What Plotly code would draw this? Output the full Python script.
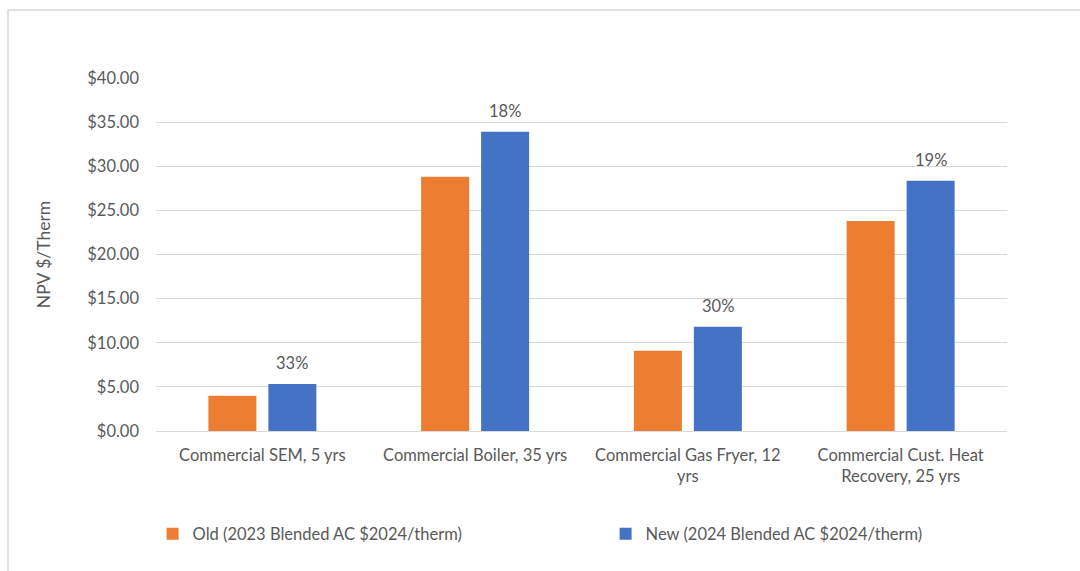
import plotly.graph_objects as go

categories = [
    "Commercial SEM, 5 yrs",
    "Commercial Boiler, 35 yrs",
    "Commercial Gas Fryer, 12<br>yrs",
    "Commercial Cust. Heat<br>Recovery, 25 yrs",
]
old_values = [4.00, 28.80, 9.10, 23.80]
new_values = [5.32, 33.90, 11.80, 28.35]
pct_labels = ["33%", "18%", "30%", "19%"]

old_name = "Old (2023 Blended AC $2024/therm)"
new_name = "New (2024 Blended AC $2024/therm)"

ORANGE = "#ED7D31"
BLUE = "#4472C4"
GRAY = "#595959"
FONT = "Lato, Open Sans, sans-serif"
FS = 16.5

fig = go.Figure()
fig.add_trace(go.Bar(
    x=categories, y=old_values, name=old_name,
    marker=dict(color=ORANGE, line=dict(width=0)),
))
fig.add_trace(go.Bar(
    x=categories, y=new_values, name=new_name,
    marker=dict(color=BLUE, line=dict(width=0)),
))

# percentage change labels above the "new" bars
annotations = [
    dict(x=c, y=v, xref="x", yref="y", text=t, showarrow=False,
         xanchor="center", yanchor="bottom", xshift=30, yshift=9,
         font=dict(size=FS, color=GRAY, family=FONT))
    for c, v, t in zip(categories, new_values, pct_labels)
]

fig.update_layout(
    width=1080, height=571,
    margin=dict(l=156, r=73, t=78, b=140),
    paper_bgcolor="white", plot_bgcolor="white",
    barmode="group", bargap=0.436, bargroupgap=0.2,
    font=dict(family=FONT, color=GRAY, size=FS),
    showlegend=True,
    legend=dict(
        orientation="h", x=-0.004, xanchor="left", y=-0.292, yanchor="middle",
        entrywidth=408, entrywidthmode="pixels",
        font=dict(size=FS, color=GRAY, family=FONT),
        traceorder="normal",
    ),
    xaxis=dict(
        showgrid=False, showline=True, linecolor="#D9D9D9", linewidth=1,
        ticks="", tickfont=dict(size=FS, color=GRAY), automargin=False,
        ticklabelstandoff=9,
    ),
    yaxis=dict(
        range=[0, 40], dtick=5, tickprefix="$", tickformat=".2f",
        showgrid=True, gridcolor="#D9D9D9", gridwidth=1,
        zeroline=False, showline=False, ticks="", automargin=False,
        ticklabelstandoff=16,
        tickfont=dict(size=FS, color=GRAY),
        title=dict(text="NPV $/Therm", font=dict(size=17.5, color=GRAY), standoff=32),
    ),
    annotations=annotations,
    shapes=[
        dict(type="rect", xref="paper", yref="paper",
             x0=-148 / 851, x1=1.2, y0=-0.5, y1=1 + 68 / 353,
             line=dict(color="#D9D9D9", width=1.5), fillcolor="rgba(0,0,0,0)",
             layer="below"),
    ],
)

fig.write_html("out.html")
